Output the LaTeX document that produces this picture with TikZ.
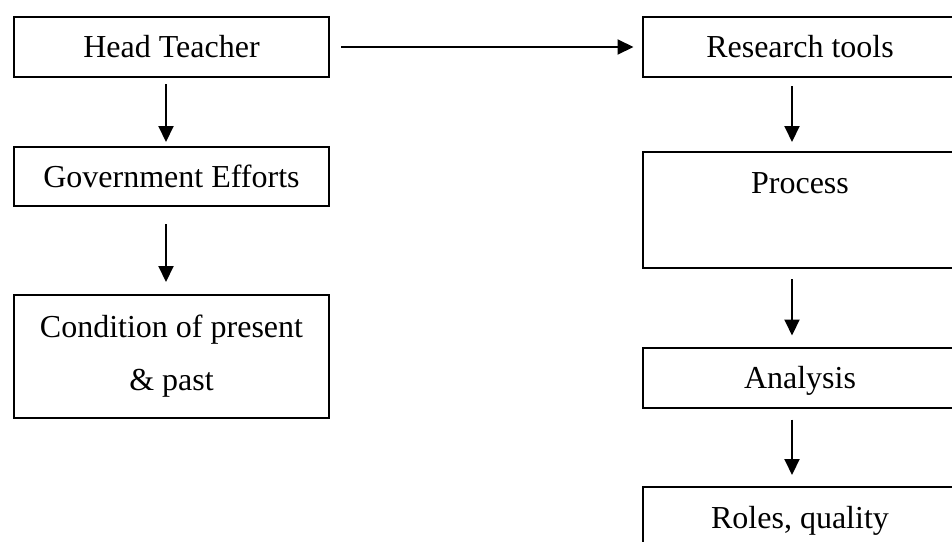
\documentclass[tikz,border=0pt]{standalone}
\usepackage{fontspec}
\setmainfont{Liberation Serif}
\usetikzlibrary{arrows.meta}

\begin{document}
\begin{tikzpicture}[x=0.5pt, y=-0.5pt, >={Triangle[length=8pt, width=7.5pt]},
	box/.style={draw, line width=1pt, inner sep=0pt, minimum width=157.5pt, minimum height=30pt, align=center, font=\fontsize{16}{26.5}\selectfont},
	one/.style={box, text height=14pt, text depth=3.4pt},
	tall/.style={box, minimum height=58pt, text height=11pt, text depth=28pt},
	link/.style={->, line width=1pt}]
	\useasboundingbox (0,0) rectangle (952,541);
	\clip (0,0) rectangle (952,541);
	% left column
	\node[one] (head) at (171.5,47) {Head Teacher};
	\node[one, minimum height=29.5pt] (gov) at (171.5,176.5) {Government Efforts};
	\node[box, minimum height=61.5pt] (cond) at (171.5,356.5) {Condition of present\\ \& past};
	% right column
	\node[one] (tools) at (800,47) {Research tools};
	\node[tall] (proc) at (800,210) {Process};
	\node[one] (anal) at (800,377.5) {Analysis};
	\node[tall] (roles) at (800,545) {Roles, quality};
	% connectors
	\draw[link, shorten <=5.5pt, shorten >=4pt] (head) -- (tools);
	\draw[link, shorten <=3pt, shorten >=2pt] ([xshift=-2.75pt]head.south) -- ([xshift=-2.75pt]gov.north);
	\draw[link, shorten <=8.5pt, shorten >=6pt] ([xshift=-2.75pt]gov.south) -- ([xshift=-2.75pt]cond.north);
	\draw[link, shorten <=4pt, shorten >=4.5pt] ([xshift=-4pt]tools.south) -- ([xshift=-4pt]proc.north);
	\draw[link, shorten <=5pt, shorten >=5.5pt] ([xshift=-4pt]proc.south) -- ([xshift=-4pt]anal.north);
	\draw[link, shorten <=5.5pt, shorten >=5.5pt] ([xshift=-4pt]anal.south) -- ([xshift=-4pt]roles.north);
\end{tikzpicture}
\end{document}
